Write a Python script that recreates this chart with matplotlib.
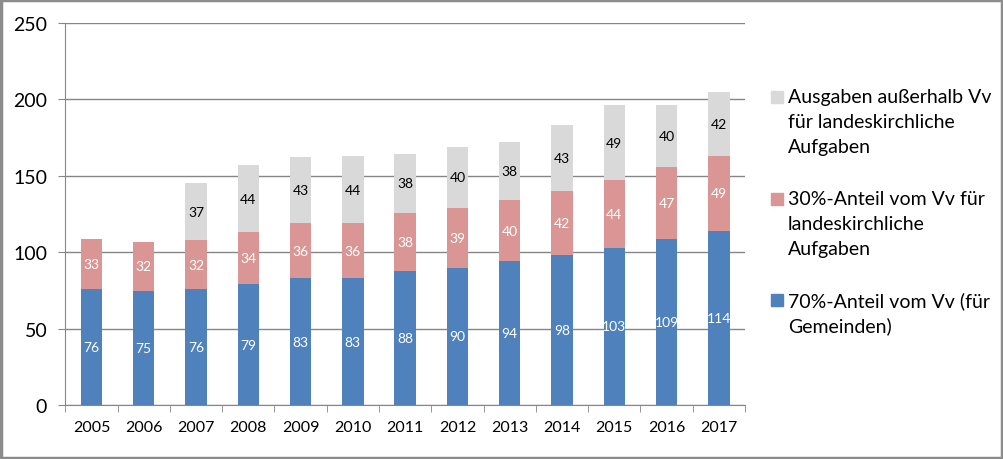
import numpy as np
import matplotlib
matplotlib.use('Agg')
import matplotlib.pyplot as plt
from matplotlib.patches import Rectangle

plt.rcParams['font.family'] = ['Lato', 'DejaVu Sans']

jahre = ['2005', '2006', '2007', '2008', '2009', '2010', '2011',
         '2012', '2013', '2014', '2015', '2016', '2017']
gemeinden = [76, 75, 76, 79, 83, 83, 88, 90, 94, 98, 103, 109, 114]
anteil30 = [33, 32, 32, 34, 36, 36, 38, 39, 40, 42, 44, 47, 49]
ausserhalb = [0, 0, 37, 44, 43, 44, 38, 40, 38, 43, 49, 40, 42]

lbl_blau = '70%-Anteil vom Vv (für\nGemeinden)'
lbl_rot = '30%-Anteil vom Vv für\nlandeskirchliche\nAufgaben'
lbl_grau = 'Ausgaben außerhalb Vv\nfür landeskirchliche\nAufgaben'

c_blau = '#4F81BD'
c_rot = '#D99694'
c_grau = '#D9D9D9'

W, H = 1004, 460
fig = plt.figure(figsize=(W / 100, H / 100), dpi=100)
ax = fig.add_axes([0.065, 0.117, 0.677, 0.831])

x = np.arange(len(jahre))
g = np.array(gemeinden)
r = np.array(anteil30)
a = np.array(ausserhalb)
w = 0.41

ax.bar(x, g, w, color=c_blau, zorder=2)
ax.bar(x, r, w, bottom=g, color=c_rot, zorder=2)
ax.bar(x, a, w, bottom=g + r, color=c_grau, zorder=2)

# data labels
for i in range(len(jahre)):
    ax.text(x[i], g[i] / 2, str(g[i]), ha='center', va='center', color='white', fontsize=10, zorder=3)
    ax.text(x[i], g[i] + r[i] / 2, str(r[i]), ha='center', va='center', color='white', fontsize=10, zorder=3)
    if a[i] > 0:
        ax.text(x[i], g[i] + r[i] + a[i] / 2, str(a[i]), ha='center', va='center', color='black', fontsize=10, zorder=3)

ax.set_xlim(-0.5, len(jahre) - 0.5)
ax.set_ylim(0, 250)
ax.set_yticks([0, 50, 100, 150, 200, 250])
ax.yaxis.grid(True, color='#868686', linewidth=1)
ax.set_axisbelow(True)

ax.set_xticks(x)
ax.set_xticklabels(jahre, fontsize=11.5)
ax.set_xticks(np.arange(-0.5, len(jahre)), minor=True)
ax.tick_params(axis='x', which='major', length=0, pad=11)
ax.tick_params(axis='x', which='minor', length=5, color='#868686', direction='out')
ax.tick_params(axis='y', length=5, color='#868686', labelsize=14, pad=8)

for s in ['top', 'right']:
    ax.spines[s].set_visible(False)
ax.spines['left'].set_color('#868686')
ax.spines['bottom'].set_color('#868686')

# Legende wie in Excel: Kästchen auf Höhe der ersten Zeile
eintraege = [(lbl_grau, c_grau, 98), (lbl_rot, c_rot, 200), (lbl_blau, c_blau, 301)]
for lbl, farbe, y0 in eintraege:
    fig.patches.append(Rectangle((771 / W, 1 - (y0 + 6) / H), 12 / W, 12 / H,
                                 transform=fig.transFigure, color=farbe))
    for k, zeile in enumerate(lbl.split('\n')):
        fig.text(788 / W, 1 - (y0 + 25 * k) / H, zeile, ha='left', va='center', fontsize=14)

# Rahmen
fig.patches.append(Rectangle((0.001, 0.002), 0.997, 0.995, transform=fig.transFigure,
                             fill=False, edgecolor='#8C8C8C', linewidth=2.5))

fig.savefig('out.png', dpi=100)
